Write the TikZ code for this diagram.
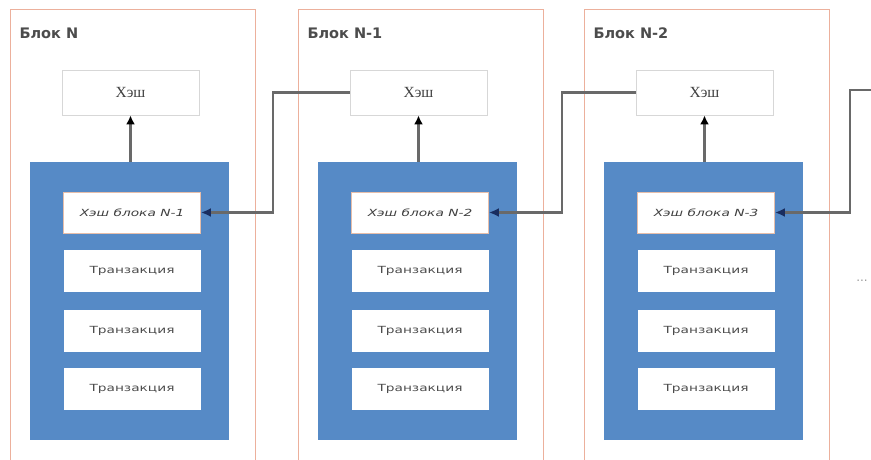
\documentclass[tikz,border=0pt]{standalone}
\usepackage{fontspec}
\setmainfont{DejaVu Sans}
\newfontfamily\serifcyr{Liberation Serif}
\newfontfamily\widefont[FakeStretch=1.4]{DejaVu Sans}
\usetikzlibrary{arrows.meta}
\definecolor{framec}{RGB}{236,176,156}
\definecolor{panelc}{RGB}{86,138,198}
\definecolor{hashbd}{RGB}{215,215,215}
\definecolor{innerbd}{RGB}{230,190,170}
\definecolor{connc}{RGB}{105,105,105}
\definecolor{tipc}{RGB}{25,45,95}
\tikzset{
  frame/.style={draw=framec, line width=1pt, fill=white},
  ttl/.style={anchor=west, font=\bfseries\fontsize{14.5}{17}\selectfont, text=black!70},
  hashbox/.style={draw=hashbd, line width=0.8pt, fill=white, minimum width=137pt, minimum height=45pt, font=\serifcyr\fontsize{15.5}{18}\selectfont, text=black!75},
  panel/.style={fill=panelc, draw=none},
  inbox/.style={draw=innerbd, line width=0.8pt, fill=white, minimum width=137pt, minimum height=41pt, font=\widefont\itshape\fontsize{9.8}{12}\selectfont, text=black!75},
  txbox/.style={draw=none, fill=white, minimum width=137pt, minimum height=42pt, font=\widefont\fontsize{9.8}{12}\selectfont, text=black!70},
  uparrow/.style={draw=connc, line width=2.5pt, -{Latex[length=9pt,width=9pt,color=black]}},
  conn/.style={draw=connc, line width=2.5pt, -{Latex[length=10pt,width=9pt,color=tipc]}},
}
\begin{document}
\begin{tikzpicture}[x=1pt,y=-1pt]
\useasboundingbox (0,0) rectangle (871,460);
\clip (0,0) rectangle (871,460);
% block frames
\foreach \i/\dx/\t in {1/0/{Блок N},2/288/{Блок N-1},3/574/{Блок N-2}}{
  \draw[frame] (10+\dx,10) rectangle (255+\dx,475);
  \node[ttl] (t\i) at (16+\dx,33) {\t};
  \fill[panel] (30+\dx,162) rectangle (229+\dx,440);
  \node[hashbox] (h\i) at (130.5+\dx,92.5) {Хэш};
  \coordinate (p\i) at (130.5+\dx,162);
  \node[txbox] (a\i) at (132+\dx,271) {Транзакция};
  \node[txbox] (b\i) at (132+\dx,331) {Транзакция};
  \node[txbox] (c\i) at (132+\dx,389) {Транзакция};
  \draw[uparrow] (p\i) -- (h\i.south);
}
\node[inbox] (i1) at (132,212.5) {Хэш блока N-1};
\node[inbox] (i2) at (420,212.5) {Хэш блока N-2};
\node[inbox] (i3) at (706,212.5) {Хэш блока N-3};
% connectors
\coordinate (k1) at (273,92.5);
\coordinate (k2) at (562,92.5);
\coordinate (r0) at (875,90);
\coordinate (k3) at (850,90);
\draw[conn] (h2.west) -- (k1) |- (i1.east);
\draw[conn] (h3.west) -- (k2) |- (i2.east);
\draw[conn] (r0) -- (k3) |- (i3.east);
\node[font=\fontsize{12}{14}\selectfont, text=black!40] (dots) at (862,281) {...};
\end{tikzpicture}
\end{document}
